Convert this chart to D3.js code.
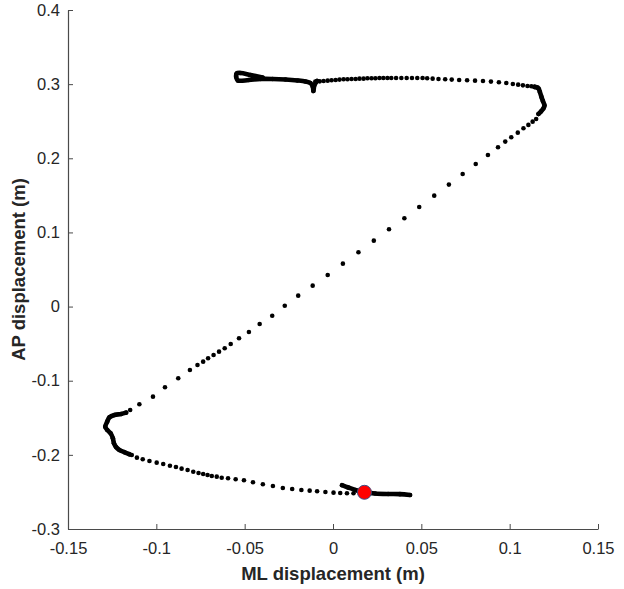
<!DOCTYPE html>
<html>
<head>
<meta charset="utf-8">
<script src="https://cdn.jsdelivr.net/npm/d3@7"></script>
<style>
  body { margin: 0; background: #fff; }
  text { font-family: "Liberation Sans", Arial, sans-serif; fill: #262626; }
</style>
</head>
<body>
<svg></svg>
<script>
var width = 624;
var height = 589;

// axis ticks
var xTicks = [-0.15, -0.1, -0.05, 0, 0.05, 0.1, 0.15];
var yTicks = [-0.3, -0.2, -0.1, 0, 0.1, 0.2, 0.3, 0.4];

// trajectory, [ML, AP] in metres
var topLeftStroke = [
  [-0.0399, 0.3090], [-0.0467, 0.3124], [-0.0523, 0.3151], [-0.0545, 0.3144],
  [-0.0548, 0.3097], [-0.0539, 0.3050], [-0.0477, 0.3056], [-0.0410, 0.3070],
  [-0.0342, 0.3070], [-0.0269, 0.3063], [-0.0201, 0.3050], [-0.0156, 0.3036],
  [-0.0128, 0.3016], [-0.0114, 0.2962], [-0.0111, 0.2908], [-0.0105, 0.2989],
  [-0.0090, 0.3043]
];

var topDots = [
  [-0.0100, 0.3034], [-0.0075, 0.3038], [-0.0053, 0.3043], [-0.0030, 0.3047],
  [-0.0008, 0.3052], [0.0015, 0.3056], [0.0037, 0.3061], [0.0060, 0.3065],
  [0.0082, 0.3065], [0.0105, 0.3070], [0.0128, 0.3070], [0.0150, 0.3074],
  [0.0173, 0.3074], [0.0195, 0.3079], [0.0218, 0.3079], [0.0240, 0.3079],
  [0.0263, 0.3083], [0.0285, 0.3083], [0.0308, 0.3083], [0.0330, 0.3083],
  [0.0357, 0.3083], [0.0387, 0.3083], [0.0417, 0.3083], [0.0447, 0.3083],
  [0.0477, 0.3083], [0.0507, 0.3083], [0.0533, 0.3079], [0.0564, 0.3074],
  [0.0597, 0.3070], [0.0635, 0.3065], [0.0672, 0.3061], [0.0714, 0.3056],
  [0.0759, 0.3052], [0.0804, 0.3047], [0.0849, 0.3043], [0.0894, 0.3034],
  [0.0939, 0.3025], [0.0981, 0.3016], [0.1018, 0.3002], [0.1048, 0.2993],
  [0.1075, 0.2984], [0.1101, 0.2975], [0.1123, 0.2971], [0.1142, 0.2966],
  [0.1157, 0.2957]
];

var rightTurnStroke = [
  [0.1140, 0.2962], [0.1163, 0.2942], [0.1171, 0.2894], [0.1180, 0.2827],
  [0.1188, 0.2773], [0.1197, 0.2712], [0.1191, 0.2672], [0.1177, 0.2632],
  [0.1163, 0.2598]
];

var diagonalDots = [
  [0.1150, 0.2530], [0.1130, 0.2494], [0.1106, 0.2450], [0.1078, 0.2405],
  [0.1046, 0.2346], [0.1009, 0.2284], [0.0975, 0.2225], [0.0934, 0.2148],
  [0.0877, 0.2045], [0.0808, 0.1923], [0.0734, 0.1789], [0.0656, 0.1645],
  [0.0573, 0.1496], [0.0488, 0.1343], [0.0404, 0.1191], [0.0317, 0.1042],
  [0.0231, 0.0889], [0.0144, 0.0732], [0.0056, 0.0579], [-0.0030, 0.0426],
  [-0.0115, 0.0282], [-0.0197, 0.0147], [-0.0273, 0.0012], [-0.0344, -0.0123],
  [-0.0415, -0.0235], [-0.0476, -0.0343], [-0.0532, -0.0428], [-0.0579, -0.0504],
  [-0.0613, -0.0563], [-0.0645, -0.0608], [-0.0676, -0.0653], [-0.0707, -0.0698],
  [-0.0735, -0.0743], [-0.0767, -0.0788], [-0.0810, -0.0855], [-0.0876, -0.0967],
  [-0.0951, -0.1089], [-0.1019, -0.1215], [-0.1096, -0.1318], [-0.1148, -0.1395]
];

var leftTurnStroke = [
  [-0.1171, -0.1431], [-0.1199, -0.1449], [-0.1237, -0.1462], [-0.1265, -0.1493],
  [-0.1278, -0.1552], [-0.1289, -0.1620], [-0.1278, -0.1664], [-0.1259, -0.1709],
  [-0.1246, -0.1776], [-0.1240, -0.1844], [-0.1227, -0.1898], [-0.1209, -0.1934],
  [-0.1180, -0.1965], [-0.1152, -0.1992]
];

var bottomDots = [
  [-0.1139, -0.2002], [-0.1110, -0.2038], [-0.1077, -0.2060], [-0.1039, -0.2083],
  [-0.0998, -0.2105], [-0.0961, -0.2123], [-0.0923, -0.2146], [-0.0889, -0.2163],
  [-0.0857, -0.2186], [-0.0823, -0.2204], [-0.0791, -0.2227], [-0.0761, -0.2244],
  [-0.0735, -0.2258], [-0.0710, -0.2271], [-0.0686, -0.2285], [-0.0658, -0.2294],
  [-0.0630, -0.2308], [-0.0594, -0.2316], [-0.0551, -0.2329], [-0.0504, -0.2343],
  [-0.0453, -0.2370], [-0.0397, -0.2397], [-0.0340, -0.2420], [-0.0284, -0.2447],
  [-0.0231, -0.2460], [-0.0179, -0.2474], [-0.0132, -0.2483], [-0.0090, -0.2491],
  [-0.0043, -0.2501], [0.0003, -0.2510], [0.0041, -0.2514], [0.0079, -0.2518],
  [0.0116, -0.2518]
];

var bottomStroke = [
  [0.0051, -0.2409], [0.0086, -0.2440], [0.0126, -0.2474], [0.0178, -0.2505],
  [0.0238, -0.2521], [0.0312, -0.2528], [0.0379, -0.2530], [0.0436, -0.2541]
];

var startPoint = [0.0178, -0.2505];

var xScale = d3.scaleLinear()
                .domain([-0.15, 0.15])
                .range([68, 598]);
var yScale = d3.scaleLinear()
                .domain([-0.3, 0.4])
                .range([529, 10]);

var svg = d3.select('svg')
    .attr('width', width)
    .attr('height', height);

var fmt = d => (d === 0 ? '0' : String(d));

var xAxis = d3.axisBottom(xScale)
                .tickValues(xTicks)
                .tickFormat(fmt)
                .tickSizeInner(-5)
                .tickSizeOuter(0)
                .tickPadding(13);

var yAxis = d3.axisLeft(yScale)
                .tickValues(yTicks)
                .tickFormat(fmt)
                .tickSizeInner(-5)
                .tickSizeOuter(0)
                .tickPadding(8);

var gx = svg.append('g')
    .attr('transform', 'translate(0,' + yScale(-0.3) + ')')
    .call(xAxis);

var gy = svg.append('g')
    .attr('transform', 'translate(' + xScale(-0.15) + ',0)')
    .call(yAxis);

[gx, gy].forEach(g => {
  g.select('.domain').attr('stroke', '#4a4a4a').attr('stroke-width', 1.2);
  g.selectAll('.tick line').attr('stroke', '#4a4a4a');
  g.selectAll('.tick text')
    .attr('fill', '#262626')
    .style('font-family', '"Liberation Sans", Arial, sans-serif')
    .style('font-size', '16.5px');
});

// slow parts of the trajectory: samples overlap into a thick stroke
var line = d3.line()
    .x(d => xScale(d[0]))
    .y(d => yScale(d[1]))
    .curve(d3.curveCatmullRom);

[topLeftStroke, rightTurnStroke, leftTurnStroke, bottomStroke].forEach(seg => {
  svg.append('path')
    .datum(seg)
    .attr('d', line)
    .attr('fill', 'none')
    .attr('stroke', '#000')
    .attr('stroke-width', 4.6)
    .attr('stroke-linecap', 'round')
    .attr('stroke-linejoin', 'round');
});

var allPoints = [].concat(topLeftStroke, topDots, rightTurnStroke, diagonalDots,
                          leftTurnStroke, bottomDots, bottomStroke);

svg.append('g')
  .selectAll('circle')
  .data(allPoints)
  .enter()
  .append('circle')
    .attr('cx', d => xScale(d[0]))
    .attr('cy', d => yScale(d[1]))
    .attr('r', 2.3)
    .attr('fill', '#000');

svg.append('circle')
    .attr('cx', xScale(startPoint[0]))
    .attr('cy', yScale(startPoint[1]))
    .attr('r', 7)
    .attr('fill', '#ff0000')
    .attr('stroke', '#3d4f86')
    .attr('stroke-width', 1);

svg.append('text')
    .attr('x', (xScale(-0.15) + xScale(0.15)) / 2)
    .attr('y', 580)
    .style('text-anchor', 'middle')
    .style('font-weight', 'bold')
    .style('font-size', '18.5px')
    .text('ML displacement (m)');

svg.append('text')
    .attr('transform', 'rotate(-90)')
    .attr('x', -(yScale(-0.3) + yScale(0.4)) / 2)
    .attr('y', 25)
    .style('text-anchor', 'middle')
    .style('font-weight', 'bold')
    .style('font-size', '18.5px')
    .text('AP displacement (m)');
</script>
</body>
</html>
